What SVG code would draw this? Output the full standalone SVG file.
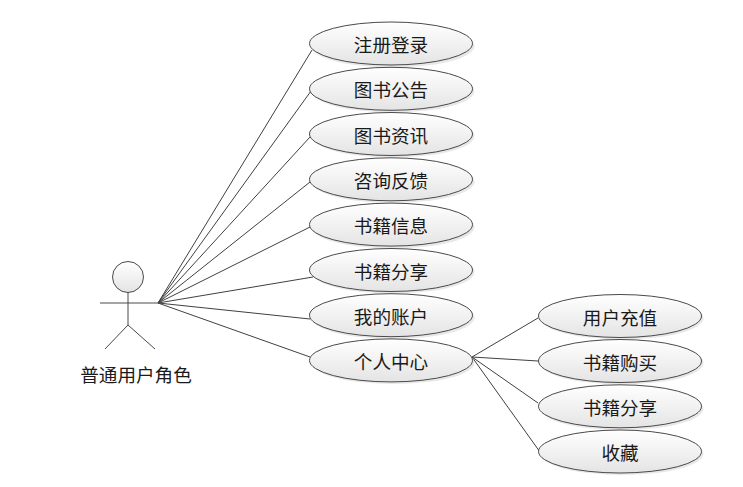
<svg xmlns="http://www.w3.org/2000/svg" width="743" height="487" viewBox="0 0 743 487">
<defs>
<linearGradient id="g" x1="0" y1="0" x2="0" y2="1">
<stop offset="0" stop-color="#ffffff"/>
<stop offset="1" stop-color="#e4e4e4"/>
</linearGradient>
<style>
.uc ellipse.b{fill:url(#g);stroke:#4a4a4a;stroke-width:1}
.uc ellipse.s{fill:#d8d8d8;opacity:0.6}
text{font-family:"Noto Sans CJK SC","Noto Sans",sans-serif;font-size:18.6px;fill:#1a1a1a;text-anchor:middle;dominant-baseline:central}
.c line{stroke:#404040;stroke-width:1}
.actor *{stroke:#4a4a4a;stroke-width:1;fill:none}
</style>
</defs>
<rect width="743" height="487" fill="#ffffff"/>
<g class="c" id="connectors">
<line x1="158" y1="303" x2="312" y2="50"/>
<line x1="158" y1="303" x2="311" y2="91"/>
<line x1="158" y1="303" x2="310" y2="137"/>
<line x1="158" y1="303" x2="310" y2="182"/>
<line x1="158" y1="303" x2="310" y2="227"/>
<line x1="158" y1="303" x2="313" y2="277"/>
<line x1="158" y1="303" x2="310" y2="319"/>
<line x1="158" y1="303" x2="310" y2="357"/>
<line x1="472" y1="357" x2="538" y2="318"/>
<line x1="472" y1="357" x2="538" y2="361"/>
<line x1="472" y1="357" x2="538" y2="403"/>
<line x1="472" y1="357" x2="540" y2="452"/>
</g>
<g id="actor" class="actor">
<circle cx="128" cy="277" r="15.5" style="fill:url(#g)"/>
<line x1="100" y1="303" x2="160" y2="303"/>
<line x1="128" y1="292.5" x2="128" y2="325"/>
<line x1="128" y1="325" x2="105" y2="349"/>
<line x1="128" y1="325" x2="155" y2="349"/>
<text x="136" y="373" style="stroke:none;fill:#1a1a1a">普通用户角色</text>
</g>
<g id="uc1" class="uc"><ellipse class="s" cx="393" cy="46" rx="81.5" ry="21.5"/><ellipse class="b" cx="391" cy="43.5" rx="81.5" ry="21.5"/><text x="391" y="43.5">注册登录</text></g>
<g id="uc2" class="uc"><ellipse class="s" cx="393" cy="91" rx="81.5" ry="21.5"/><ellipse class="b" cx="391" cy="88.8" rx="81.5" ry="21.5"/><text x="391" y="88.8">图书公告</text></g>
<g id="uc3" class="uc"><ellipse class="s" cx="393" cy="136" rx="81.5" ry="21.5"/><ellipse class="b" cx="391" cy="134" rx="81.5" ry="21.5"/><text x="391" y="134">图书资讯</text></g>
<g id="uc4" class="uc"><ellipse class="s" cx="393" cy="181.5" rx="81.5" ry="21.5"/><ellipse class="b" cx="391" cy="179.3" rx="81.5" ry="21.5"/><text x="391" y="179.3">咨询反馈</text></g>
<g id="uc5" class="uc"><ellipse class="s" cx="393" cy="227" rx="81.5" ry="21.5"/><ellipse class="b" cx="391" cy="224.6" rx="81.5" ry="21.5"/><text x="391" y="224.6">书籍信息</text></g>
<g id="uc6" class="uc"><ellipse class="s" cx="393" cy="272" rx="81.5" ry="21.5"/><ellipse class="b" cx="391" cy="270" rx="81.5" ry="21.5"/><text x="391" y="270">书籍分享</text></g>
<g id="uc7" class="uc"><ellipse class="s" cx="393" cy="317.5" rx="81.5" ry="21.5"/><ellipse class="b" cx="391" cy="315.2" rx="81.5" ry="21.5"/><text x="391" y="315.2">我的账户</text></g>
<g id="uc8" class="uc"><ellipse class="s" cx="393" cy="362.5" rx="81.5" ry="21.5"/><ellipse class="b" cx="391" cy="360.4" rx="81.5" ry="21.5"/><text x="391" y="360.4">个人中心</text></g>
<g id="uc9" class="uc"><ellipse class="s" cx="622" cy="318" rx="81.5" ry="21.5"/><ellipse class="b" cx="620" cy="316" rx="81.5" ry="21.5"/><text x="620" y="316">用户充值</text></g>
<g id="uc10" class="uc"><ellipse class="s" cx="622" cy="363" rx="81.5" ry="21.5"/><ellipse class="b" cx="620" cy="361" rx="81.5" ry="21.5"/><text x="620" y="361">书籍购买</text></g>
<g id="uc11" class="uc"><ellipse class="s" cx="622" cy="408.5" rx="81.5" ry="21.5"/><ellipse class="b" cx="620" cy="406.3" rx="81.5" ry="21.5"/><text x="620" y="406.3">书籍分享</text></g>
<g id="uc12" class="uc"><ellipse class="s" cx="622" cy="453.5" rx="81.5" ry="21.5"/><ellipse class="b" cx="620" cy="451.5" rx="81.5" ry="21.5"/><text x="620" y="451.5">收藏</text></g>
</svg>
